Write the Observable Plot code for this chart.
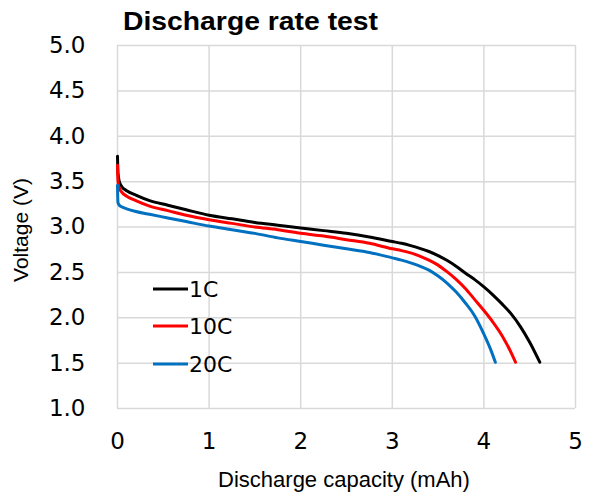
<!DOCTYPE html>
<html>
<head>
<meta charset="utf-8">
<script src="https://cdn.jsdelivr.net/npm/d3@7"></script>
<script src="https://cdn.jsdelivr.net/npm/@observablehq/plot@0.6"></script>
<style>
  html, body { margin: 0; padding: 0; background: #fff; }
  #wrap { position: relative; width: 595px; height: 496px; }
  #overlay { position: absolute; left: 0; top: 0; pointer-events: none; }
</style>
</head>
<body>
<div id="wrap"></div>
<script>
// ---- data ----
const xTicks = [0, 1, 2, 3, 4, 5];
const yTicks = [1.0, 1.5, 2.0, 2.5, 3.0, 3.5, 4.0, 4.5, 5.0];
const seriesNames = ["1C", "10C", "20C"];
const seriesColors = ["#000000", "#ff0000", "#0070c0"];

const cap1C = [0, 0.005, 0.02, 0.05, 0.1, 0.2, 0.35, 0.55, 0.75, 1.0, 1.25, 1.5, 1.75, 2.0, 2.25, 2.5, 2.75, 3.0, 3.1, 3.2, 3.3, 3.4, 3.5, 3.6, 3.7, 3.8, 3.9, 4.0, 4.1, 4.2, 4.3, 4.4, 4.5, 4.61];
const volt1C = [3.78, 3.6, 3.5, 3.44, 3.4, 3.35, 3.29, 3.24, 3.19, 3.13, 3.09, 3.05, 3.02, 2.99, 2.96, 2.93, 2.89, 2.84, 2.82, 2.795, 2.765, 2.73, 2.685, 2.63, 2.565, 2.49, 2.42, 2.34, 2.25, 2.15, 2.04, 1.9, 1.73, 1.51];

const cap10C = [0, 0.005, 0.02, 0.05, 0.1, 0.2, 0.35, 0.55, 0.75, 1.0, 1.25, 1.5, 1.75, 2.0, 2.25, 2.5, 2.75, 3.0, 3.1, 3.2, 3.3, 3.4, 3.5, 3.6, 3.7, 3.8, 3.9, 4.0, 4.1, 4.2, 4.3, 4.345];
const volt10C = [3.68, 3.5, 3.43, 3.38, 3.34, 3.29, 3.23, 3.18, 3.13, 3.08, 3.04, 3.0, 2.97, 2.93, 2.9, 2.86, 2.82, 2.76, 2.74, 2.715, 2.68, 2.635, 2.58, 2.505, 2.42, 2.32, 2.2, 2.08, 1.95, 1.8, 1.61, 1.51];

const cap20C = [0, 0.005, 0.02, 0.05, 0.1, 0.2, 0.35, 0.55, 0.75, 1.0, 1.25, 1.5, 1.75, 2.0, 2.25, 2.5, 2.75, 3.0, 3.1, 3.2, 3.3, 3.4, 3.5, 3.6, 3.7, 3.8, 3.9, 4.0, 4.07, 4.125];
const volt20C = [3.46, 3.27, 3.24, 3.22, 3.2, 3.17, 3.14, 3.1, 3.06, 3.01, 2.97, 2.93, 2.88, 2.84, 2.8, 2.76, 2.72, 2.66, 2.635, 2.605, 2.57, 2.525, 2.46, 2.38, 2.28, 2.16, 2.02, 1.82, 1.66, 1.51];

// ---- build table ----
const caps = [cap1C, cap10C, cap20C];
const volts = [volt1C, volt10C, volt20C];
const rows = [];
seriesNames.forEach((s, i) => {
  caps[i].forEach((c, j) => rows.push({series: s, cap: c, volt: volts[i][j]}));
});

const W = 595, H = 496;
const mL = 117, mR = 20, mT = 45, mB = 88;

const chart = Plot.plot({
  width: W,
  height: H,
  marginLeft: mL,
  marginRight: mR,
  marginTop: mT,
  marginBottom: mB,
  style: {fontFamily: "DejaVu Sans", fontSize: "23px", color: "#000", background: "#fff"},
  x: {domain: [0, 5], ticks: xTicks},
  y: {domain: [1, 5], ticks: yTicks},
  color: {domain: seriesNames, range: seriesColors},
  marks: [
    Plot.gridX(xTicks, {stroke: "#d9d9d9", strokeOpacity: 1, strokeWidth: 1.5}),
    Plot.gridY(yTicks, {stroke: "#d9d9d9", strokeOpacity: 1, strokeWidth: 1.5}),
    Plot.line(rows, {x: "cap", y: "volt", z: "series", stroke: "series", strokeWidth: 3, curve: "monotone-x"}),
    Plot.axisX(xTicks, {tickSize: 0, tickPadding: 24, label: null, fontSize: 23, tickFormat: d3.format("d")}),
    Plot.axisY(yTicks, {tickSize: 0, tickPadding: 32, label: null, fontSize: 23, tickFormat: d3.format(".1f")})
  ]
});

const wrap = document.getElementById("wrap");
wrap.appendChild(chart);

// ---- overlay texts: title, axis labels, legend ----
const ns = "http://www.w3.org/2000/svg";
const ov = document.createElementNS(ns, "svg");
ov.setAttribute("id", "overlay");
ov.setAttribute("width", W);
ov.setAttribute("height", H);
wrap.appendChild(ov);

function txt(str, attrs) {
  const t = document.createElementNS(ns, "text");
  for (const k in attrs) t.setAttribute(k, attrs[k]);
  t.textContent = str;
  ov.appendChild(t);
  return t;
}

txt("Discharge rate test", {x: 123, y: 30, "font-family": "Liberation Sans, Arial, sans-serif", "font-weight": "bold", "font-size": 26, textLength: 255, lengthAdjust: "spacingAndGlyphs", fill: "#000"});
txt("Discharge capacity (mAh)", {x: 344, y: 487, "text-anchor": "middle", "font-family": "Liberation Sans, Arial, sans-serif", "font-size": 22, fill: "#000"});
txt("Voltage (V)", {x: 0, y: 0, transform: "translate(28,230) rotate(-90)", "text-anchor": "middle", "font-family": "Liberation Sans, Arial, sans-serif", "font-size": 21, fill: "#000"});

// legend
const legY = [289, 326, 364];
seriesNames.forEach((s, i) => {
  const l = document.createElementNS(ns, "line");
  l.setAttribute("x1", 153); l.setAttribute("x2", 188);
  l.setAttribute("y1", legY[i]); l.setAttribute("y2", legY[i]);
  l.setAttribute("stroke", seriesColors[i]);
  l.setAttribute("stroke-width", 3);
  ov.appendChild(l);
  txt(s, {x: 189, y: legY[i] + 8, "font-family": "DejaVu Sans", "font-size": 22, fill: "#000"});
});
</script>
</body>
</html>
